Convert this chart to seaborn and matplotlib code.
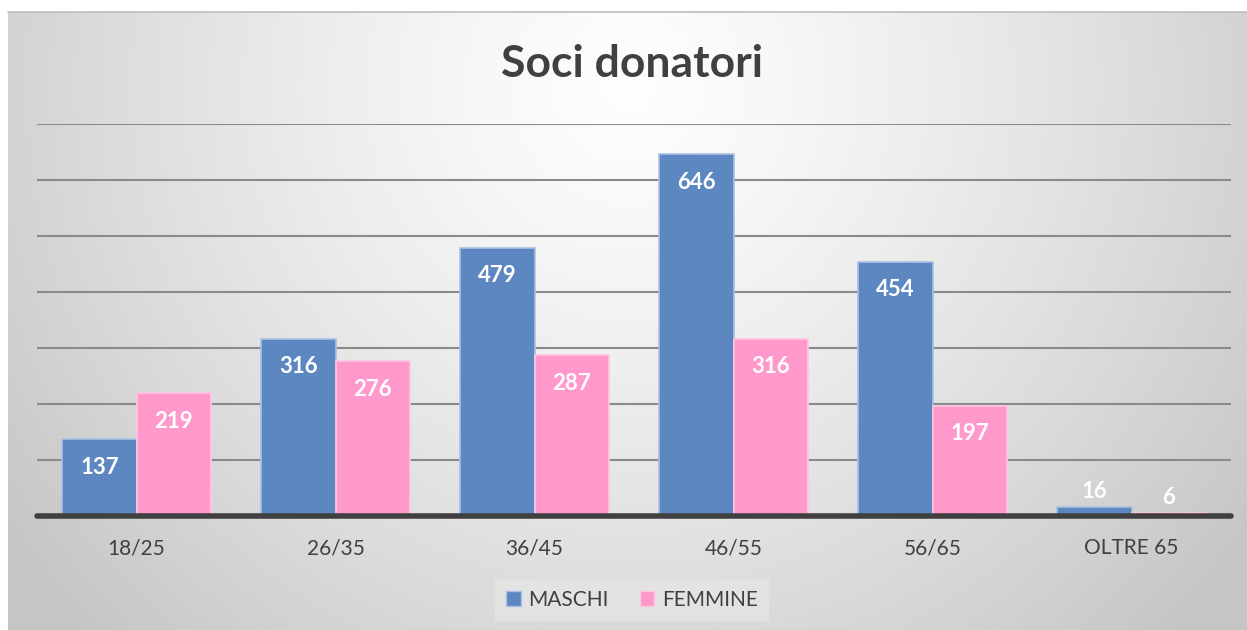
import numpy as np
import pandas as pd
import matplotlib
matplotlib.use("Agg")
import matplotlib.pyplot as plt
import seaborn as sns
from matplotlib.patches import Patch

categories = ["18/25", "26/35", "36/45", "46/55", "56/65", "OLTRE 65"]
maschi = [137, 316, 479, 646, 454, 16]
femmine = [219, 276, 287, 316, 197, 6]
series_names = ["MASCHI", "FEMMINE"]
title = "Soci donatori"

colors = {"MASCHI": "#5c87c1", "FEMMINE": "#ff99cc"}
edges = {"MASCHI": "#a9c1e2", "FEMMINE": "#ffc6e2"}

df = pd.DataFrame({
    "cat": categories * 2,
    "val": maschi + femmine,
    "serie": [series_names[0]] * len(categories) + [series_names[1]] * len(categories),
})

sns.set_theme(style="white")
plt.rcParams["font.family"] = ["Lato", "DejaVu Sans"]

W, H = 1247, 630
fig = plt.figure(figsize=(W / 100, H / 100), dpi=100)
fig.patch.set_facecolor("white")

# gradient background
bg = fig.add_axes([8 / W, 0, 1 - 8 / W, 1 - 12 / H], zorder=0)
ny, nx = 300, 600
yy, xx = np.mgrid[0:ny, 0:nx]
cx, cy = nx * 0.5, ny * 0.12
d = np.sqrt(((xx - cx) / (nx * 0.62)) ** 2 + ((yy - cy) / (ny * 1.25)) ** 2)
d = np.clip(d, 0, 1)
v = 0.995 - 0.22 * d ** 1.3
bg.imshow(np.dstack([v, v, v]), aspect="auto", extent=[0, 1, 0, 1], origin="upper")
bg.axis("off")
fig.add_artist(plt.Line2D([8 / W, 1], [1 - 12 / H, 1 - 12 / H], color="#bdbdbd", lw=1.2))

ax = fig.add_axes([37 / W, 1 - 516 / H, (1231 - 37) / W, (516 - 124) / H], zorder=1)
ax.patch.set_alpha(0)

sns.barplot(data=df, x="cat", y="val", hue="serie", order=categories,
            hue_order=series_names, palette=colors, width=0.745, gap=0,
            saturation=1, dodge=True, ax=ax, legend=False, zorder=3)

for cont, name in zip(ax.containers, series_names):
    for p in cont:
        p.set_edgecolor(edges[name])
        p.set_linewidth(1.2)
    for p, val in zip(cont, [maschi, femmine][series_names.index(name)]):
        xc = p.get_x() + p.get_width() / 2
        if val >= 60:
            ax.annotate(str(val), (xc, val), xytext=(0, -20), textcoords="offset points",
                        ha="center", va="center", color="white", fontsize=16,
                        fontweight="bold", zorder=5)
        else:
            ax.annotate(str(val), (xc, val), xytext=(0, 11), textcoords="offset points",
                        ha="center", va="center", color="white", fontsize=16,
                        fontweight="bold", zorder=5)

ax.set_ylim(0, 700)
ax.set_xlim(-0.5, len(categories) - 0.5)
for yv in range(100, 701, 100):
    ax.axhline(yv, color="#8a8a8a", lw=1.5, zorder=1)
ax.axhline(0, color="#404040", lw=4, zorder=4, clip_on=False)

for s in ax.spines.values():
    s.set_visible(False)
ax.set_yticks([])
ax.set_xlabel("")
ax.set_ylabel("")
ax.tick_params(axis="x", length=0, pad=16, labelsize=15, labelcolor="#404040")

fig.text(632 / W, 1 - 64 / H, title, ha="center", va="center", fontsize=32,
         fontweight="bold", color="#404040")

handles = [Patch(facecolor=colors[n], edgecolor=edges[n], label=n) for n in series_names]
leg = fig.legend(handles=handles, loc="center", bbox_to_anchor=(632 / W, 1 - 600 / H),
                 ncol=2, frameon=True, fontsize=15, handlelength=0.7, handleheight=0.7,
                 handletextpad=0.35, columnspacing=1.5, borderpad=0.55, fancybox=False)
leg.get_frame().set_facecolor("#e5e5e5")
leg.get_frame().set_edgecolor("none")
for t in leg.get_texts():
    t.set_color("#404040")

fig.savefig("out.png", dpi=100)
